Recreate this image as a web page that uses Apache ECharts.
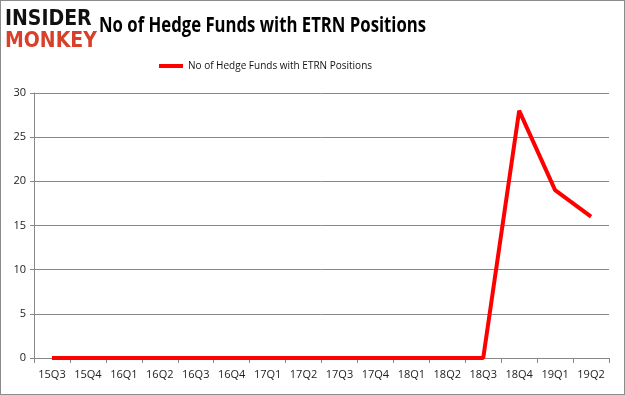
<!DOCTYPE html>
<html><head><meta charset="utf-8">
<script src="https://cdn.jsdelivr.net/npm/echarts@6/dist/echarts.min.js"></script>
<style>html,body{margin:0;padding:0;background:#fff}#c{width:625px;height:395px;box-sizing:border-box;border:1px solid #8c8c8c}</style>
</head><body><div id="c"></div>
<script>
const categories = ['15Q3','15Q4','16Q1','16Q2','16Q3','16Q4','17Q1','17Q2','17Q3','17Q4','18Q1','18Q2','18Q3','18Q4','19Q1','19Q2'];
const values = [0,0,0,0,0,0,0,0,0,0,0,0,0,28,19,16];
const seriesName = 'No of Hedge Funds with ETRN Positions';
const titleText = 'No of Hedge Funds with ETRN Positions';
const yTicks = {min:0, max:30, interval:5};

const chart = echarts.init(document.getElementById('c'), null, {renderer:'canvas'});
chart.setOption({
  animation:false,
  textStyle:{fontFamily:'Open Sans'},
  graphic:[
    {type:'text', x:98, y:14, scaleX:0.76, style:{text:titleText, font:'bold 22px "Open Sans"', fill:'#000', textVerticalAlign:'top'}},
    {type:'text', left:4, top:8, style:{text:'INSIDER', font:'900 21px "DejaVu Sans Condensed"', fill:'#111'}},
    {type:'text', left:4, top:30, style:{text:'MONKEY', font:'900 21px "DejaVu Sans Condensed"', fill:'#d7412b'}}
  ],
  legend:{top:55, left:153, itemWidth:24, itemHeight:4, itemGap:4, icon:'rect',
    textStyle:{fontFamily:'Open Sans', fontSize:10, color:'#111'}, data:[seriesName]},
  grid:{left:33, right:15, top:92, bottom:36, containLabel:false},
  xAxis:{type:'category', data:categories, boundaryGap:true,
    axisLine:{lineStyle:{color:'#888'}}, axisTick:{show:true, alignWithLabel:false, length:5, lineStyle:{color:'#888'}},
    axisLabel:{color:'#222', fontSize:11, margin:11, fontFamily:'Open Sans'}},
  yAxis:{type:'value', min:yTicks.min, max:yTicks.max, interval:yTicks.interval,
    axisLine:{show:true, lineStyle:{color:'#888'}}, axisTick:{show:true, length:4, lineStyle:{color:'#888'}},
    splitLine:{lineStyle:{color:'#888'}},
    axisLabel:{color:'#222', fontSize:11, margin:8, fontFamily:'Open Sans'}},
  series:[{name:seriesName, type:'line', data:values, symbol:'none',
    lineStyle:{color:'#ff0000', width:4}, itemStyle:{color:'#ff0000'}}]
});
</script></body></html>
